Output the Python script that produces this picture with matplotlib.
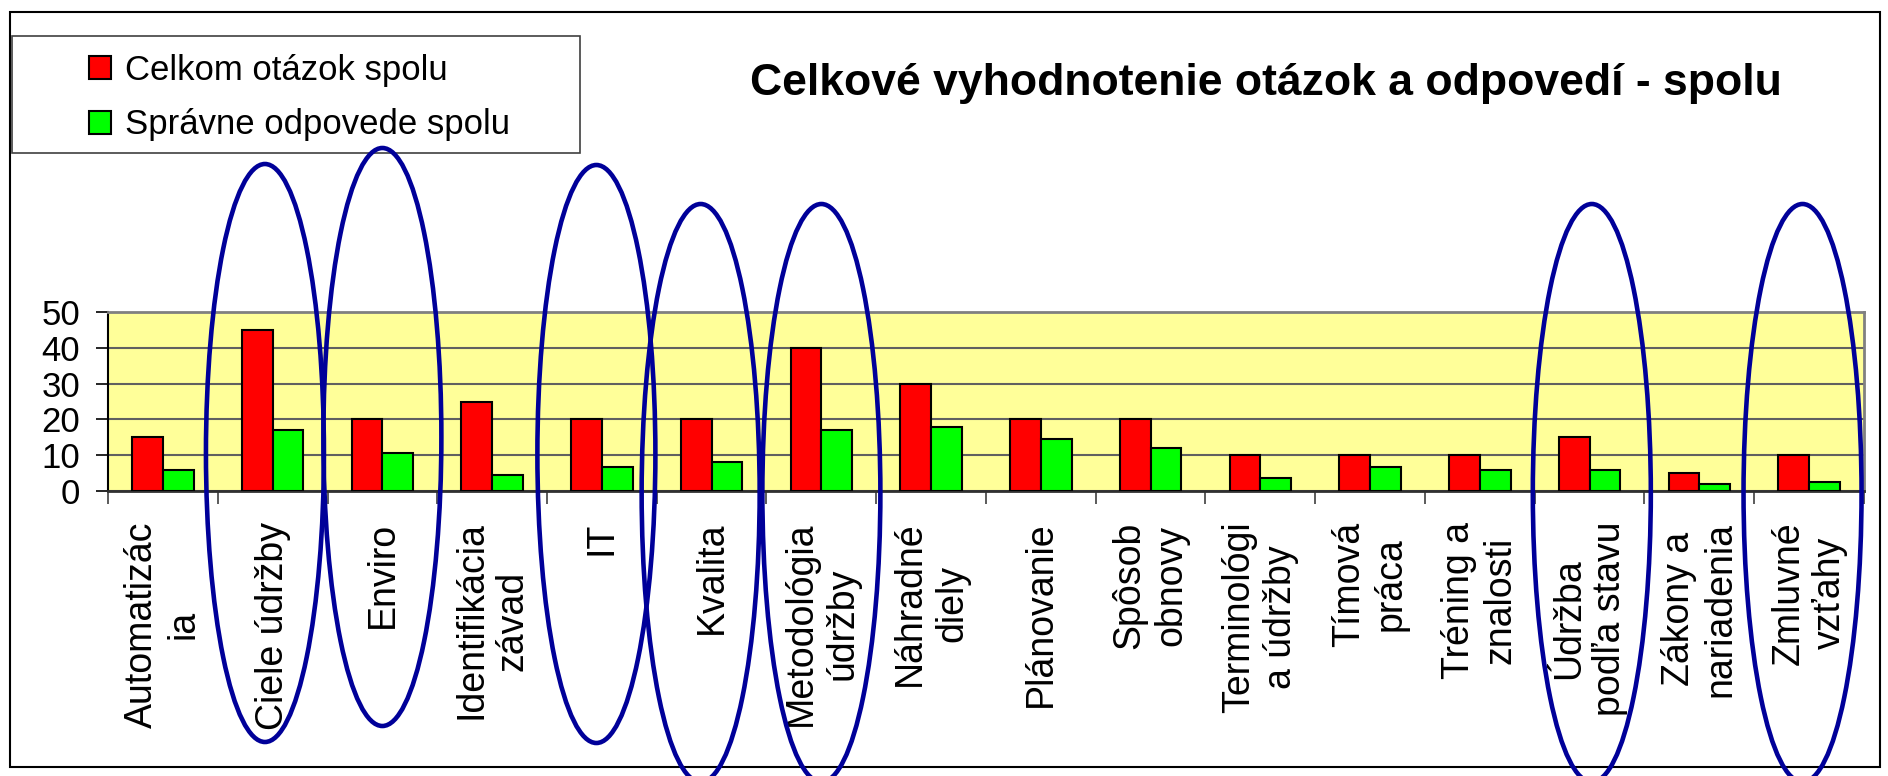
import matplotlib
matplotlib.use("Agg")
import matplotlib.pyplot as plt
from matplotlib.patches import Ellipse, Rectangle
from matplotlib.transforms import blended_transform_factory

plt.rcParams['font.family'] = ['Liberation Sans', 'DejaVu Sans']

# ---- data ----
categories = ["Automatizác\nia", "Ciele údržby", "Enviro", "Identifikácia\nzávad", "IT",
              "Kvalita", "Metodológia\núdržby", "Náhradné\ndiely", "Plánovanie",
              "Spôsob\nobnovy", "Terminológi\na údržby", "Tímová\npráca",
              "Tréning a\nznalosti", "Údržba\npodľa stavu", "Zákony a\nnariadenia",
              "Zmluvné\nvzťahy"]
celkom = [15, 45, 20, 25, 20, 20, 40, 30, 20, 20, 10, 10, 10, 15, 5, 10]
spravne = [6, 17, 10.7, 4.6, 6.7, 8, 17, 18, 14.6, 12, 3.7, 6.8, 6, 6, 1.9, 2.5]
series_names = ["Celkom otázok spolu", "Správne odpovede spolu"]
yticks = [0, 10, 20, 30, 40, 50]
title = "Celkové vyhodnotenie otázok a odpovedí - spolu"
# highlighted categories (annotation ellipses): name, x shift, top pixel
highlights = [("Ciele údržby", -0.07, 164), ("Enviro", 0.0, 148), ("IT", -0.05, 165),
              ("Kvalita", -0.10, 204), ("Metodológia\núdržby", 0.0, 204),
              ("Údržba\npodľa stavu", 0.02, 204), ("Zmluvné\nvzťahy", -0.06, 204)]

W, H = 1888, 776
fig = plt.figure(figsize=(W / 100, H / 100), dpi=100)
ax = fig.add_axes([108 / W, 1 - 491 / H, 1756 / W, 179 / H])

x = list(range(len(categories)))
bw = 0.28
b1 = ax.bar([i - bw / 2 for i in x], celkom, width=bw, color='#FF0000',
            edgecolor='black', linewidth=1.5, zorder=3, label=series_names[0])
b2 = ax.bar([i + bw / 2 for i in x], spravne, width=bw, color='#00FF00',
            edgecolor='black', linewidth=1.5, zorder=3, label=series_names[1])

ax.set_facecolor('#FFFF99')
ax.set_xlim(-0.5, len(categories) - 0.5)
ax.set_ylim(0, 50)
ax.set_yticks(yticks)
ax.set_yticklabels([str(v) for v in yticks], fontsize=25)
ax.tick_params(axis='y', direction='out', length=9, width=1.2, pad=11, colors='black')
ax.yaxis.grid(True, color='#606060', linewidth=1.5)
ax.set_axisbelow(True)

# boundaries ticks (major) and labels (minor)
ax.set_xticks([i - 0.5 for i in range(len(categories) + 1)])
ax.set_xticklabels([])
ax.tick_params(axis='x', which='major', direction='out', length=9, width=1.2, color='#404040')
ax.set_xticks(x, minor=True)
ax.set_xticklabels(categories, minor=True, fontsize=27, rotation=90)
ax.tick_params(axis='x', which='minor', length=0, pad=22)
for lab in ax.get_xticklabels(minor=True):
    lab.set_multialignment('center')
    lab.set_verticalalignment('top')
    lab.set_horizontalalignment('center')

for s in ['top', 'right']:
    ax.spines[s].set_color('#808080')
    ax.spines[s].set_linewidth(2)
ax.spines['left'].set_color('black')
ax.spines['left'].set_linewidth(1.5)
ax.spines['bottom'].set_color('#303030')
ax.spines['bottom'].set_linewidth(2)

# title
fig.text(1266 / W, 1 - 84 / H, title, fontsize=32, fontweight='bold',
         ha='center', va='center')

# legend box + legend
fig.add_artist(Rectangle((12 / W, 1 - 153 / H), 568 / W, 117 / H, transform=fig.transFigure,
                         facecolor='white', edgecolor='#404040', linewidth=1.2, zorder=1))
leg = fig.legend(handles=[b1, b2], labels=series_names, loc='upper left',
                 bbox_to_anchor=(61 / W, 1 - 26 / H), bbox_transform=fig.transFigure,
                 fontsize=25, frameon=False, handlelength=0.65, handleheight=0.65,
                 handletextpad=0.4, labelspacing=0.62, borderpad=0.3)
leg.set_zorder(2)

# outer chart frame
fig.add_artist(Rectangle((10 / W, 1 - 767 / H), 1870 / W, 755 / H, transform=fig.transFigure,
                         facecolor='none', edgecolor='black', linewidth=1.5, zorder=0.5))

# annotation ellipses
trans = blended_transform_factory(ax.transData, fig.transFigure)
ell_w = 118 / 109.75
ell_h = 578
for name, dx, top in highlights:
    idx = categories.index(name)
    e = Ellipse((idx + dx, 1 - (top + ell_h / 2) / H), ell_w, ell_h / H, transform=trans,
                facecolor='none', edgecolor='#000099', linewidth=3.3, zorder=10, clip_on=False)
    fig.add_artist(e)

fig.savefig("out.png", dpi=100)
